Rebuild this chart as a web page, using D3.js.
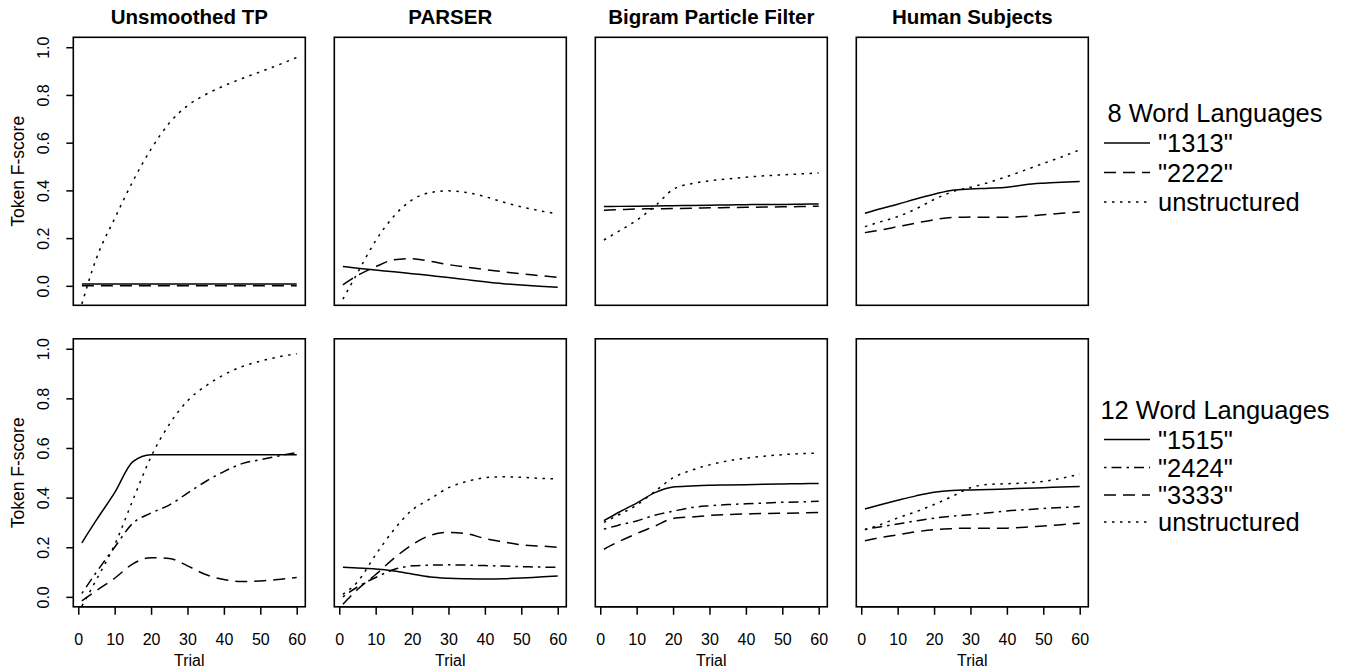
<!DOCTYPE html>
<html>
<head>
<meta charset="utf-8">
<script src="https://cdn.jsdelivr.net/npm/d3@7"></script>
<style>
  body { margin: 0; background: #fff; }
  svg { display: block; font-family: "Liberation Sans", Arial, sans-serif; }
</style>
</head>
<body>
<svg id="chart" width="1346" height="668"></svg>
<script>
/*************************Data********************* */
const trials = [1, 5, 10, 15, 20, 25, 30, 35, 40, 45, 50, 55, 60];
const models = ["Unsmoothed TP", "PARSER", "Bigram Particle Filter", "Human Subjects"];
const yTicks = [0, 0.2, 0.4, 0.6, 0.8, 1.0];
const xTicks = [0, 10, 20, 30, 40, 50, 60];

// 8 word languages
const lang8 = ['"1313"', '"2222"', "unstructured"];
const tp8_1313 = [0.008, 0.008, 0.008, 0.008, 0.008, 0.008, 0.008, 0.008, 0.008, 0.008, 0.008, 0.008, 0.008];
const tp8_2222 = [0.0, 0.0, 0.0, 0.0, 0.0, 0.0, 0.0, 0.0, 0.0, 0.0, 0.0, 0.0, 0.0];
const tp8_unstr = [-0.076, 0.116, 0.282, 0.438, 0.573, 0.682, 0.755, 0.802, 0.838, 0.869, 0.897, 0.926, 0.957];
const parser8_1313 = [0.081, 0.074, 0.066, 0.059, 0.051, 0.043, 0.035, 0.026, 0.017, 0.009, 0.003, -0.002, -0.006];
const parser8_2222 = [0.004, 0.043, 0.08, 0.109, 0.114, 0.103, 0.089, 0.078, 0.068, 0.059, 0.05, 0.043, 0.035];
const parser8_unstr = [-0.056, 0.054, 0.189, 0.292, 0.36, 0.391, 0.398, 0.391, 0.374, 0.351, 0.331, 0.315, 0.301];
const bigram8_1313 = [0.332, 0.333, 0.334, 0.335, 0.336, 0.337, 0.338, 0.339, 0.34, 0.341, 0.341, 0.342, 0.343];
const bigram8_2222 = [0.317, 0.319, 0.322, 0.323, 0.324, 0.325, 0.327, 0.328, 0.329, 0.33, 0.331, 0.332, 0.334];
const bigram8_unstr = [0.192, 0.228, 0.275, 0.334, 0.404, 0.428, 0.44, 0.448, 0.455, 0.461, 0.465, 0.469, 0.473];
const human8_1313 = [0.304, 0.322, 0.342, 0.364, 0.384, 0.401, 0.406, 0.409, 0.413, 0.424, 0.43, 0.434, 0.437];
const human8_2222 = [0.223, 0.233, 0.248, 0.263, 0.277, 0.287, 0.288, 0.287, 0.287, 0.291, 0.298, 0.304, 0.309];
const human8_unstr = [0.248, 0.267, 0.29, 0.322, 0.362, 0.394, 0.413, 0.433, 0.458, 0.485, 0.513, 0.54, 0.57];

// 12 word languages
const lang12 = ['"1515"', '"2424"', '"3333"', "unstructured"];
const tp12_1515 = [0.218, 0.31, 0.42, 0.545, 0.573, 0.573, 0.573, 0.573, 0.573, 0.573, 0.573, 0.573, 0.573];
const tp12_2424 = [0.014, 0.1, 0.2, 0.297, 0.338, 0.37, 0.418, 0.465, 0.505, 0.537, 0.553, 0.568, 0.582];
const tp12_3333 = [-0.016, 0.025, 0.075, 0.133, 0.158, 0.155, 0.125, 0.09, 0.07, 0.062, 0.064, 0.07, 0.078];
const tp12_unstr = [-0.037, 0.07, 0.21, 0.39, 0.565, 0.695, 0.79, 0.85, 0.895, 0.928, 0.95, 0.967, 0.98];
const parser12_1515 = [0.119, 0.116, 0.112, 0.104, 0.092, 0.08, 0.075, 0.073, 0.072, 0.073, 0.076, 0.08, 0.084];
const parser12_2424 = [0.0, 0.04, 0.078, 0.11, 0.125, 0.128, 0.129, 0.128, 0.126, 0.124, 0.122, 0.12, 0.119];
const parser12_3333 = [-0.03, 0.03, 0.09, 0.155, 0.21, 0.248, 0.26, 0.255, 0.235, 0.222, 0.21, 0.205, 0.2];
const parser12_unstr = [0.01, 0.06, 0.17, 0.27, 0.35, 0.395, 0.44, 0.465, 0.48, 0.484, 0.482, 0.478, 0.475];
const bigram12_1515 = [0.307, 0.34, 0.378, 0.42, 0.443, 0.447, 0.45, 0.451, 0.452, 0.454, 0.455, 0.456, 0.457];
const bigram12_2424 = [0.273, 0.289, 0.306, 0.329, 0.345, 0.36, 0.367, 0.372, 0.375, 0.378, 0.381, 0.383, 0.385];
const bigram12_3333 = [0.192, 0.222, 0.255, 0.285, 0.316, 0.322, 0.328, 0.332, 0.334, 0.336, 0.337, 0.338, 0.34];
const bigram12_unstr = [0.3, 0.33, 0.37, 0.425, 0.48, 0.51, 0.532, 0.548, 0.559, 0.567, 0.573, 0.577, 0.58];
const human12_1515 = [0.354, 0.37, 0.389, 0.407, 0.422, 0.429, 0.431, 0.433, 0.435, 0.438, 0.44, 0.443, 0.445];
const human12_2424 = [0.273, 0.282, 0.294, 0.306, 0.317, 0.325, 0.331, 0.339, 0.346, 0.351, 0.356, 0.36, 0.364];
const human12_3333 = [0.226, 0.238, 0.25, 0.262, 0.271, 0.275, 0.277, 0.277, 0.277, 0.281, 0.286, 0.291, 0.297];
const human12_unstr = [0.27, 0.29, 0.318, 0.343, 0.372, 0.405, 0.44, 0.453, 0.456, 0.459, 0.465, 0.478, 0.495];

/*************************Layout********************* */
const svg = d3.select("svg#chart");
const panelW = 232;
const panelH = 268;
const colX = [73.3, 334.3, 595.3, 856.3];
const rowY = [37.3, 338.8];

// line types as in R: solid, dashed, dotted, dotdash
const dash = {
  solid: null,
  dashed: "12,7",
  dotted: "2.5,5.5",
  dotdash: "2.5,5,10,5",
};

const scaleX = d3.scaleLinear().domain([-1.36, 62.36]).range([0, panelW]);

const rows = [
  {
    title: "8 Word Languages",
    labels: lang8,
    types: ["solid", "dashed", "dotted"],
    legendY: [113, 143, 172.5, 202],
    scaleY: d3.scaleLinear().domain([-0.0816, 1.0416]).range([panelH, 0]),
    series: [
      [tp8_1313, tp8_2222, tp8_unstr],
      [parser8_1313, parser8_2222, parser8_unstr],
      [bigram8_1313, bigram8_2222, bigram8_unstr],
      [human8_1313, human8_2222, human8_unstr],
    ],
  },
  {
    title: "12 Word Languages",
    labels: lang12,
    types: ["solid", "dotdash", "dashed", "dotted"],
    legendY: [410, 439.5, 467.5, 495, 522],
    scaleY: d3.scaleLinear().domain([-0.04, 1.04]).range([panelH, 0]),
    series: [
      [tp12_1515, tp12_2424, tp12_3333, tp12_unstr],
      [parser12_1515, parser12_2424, parser12_3333, parser12_unstr],
      [bigram12_1515, bigram12_2424, bigram12_3333, bigram12_unstr],
      [human12_1515, human12_2424, human12_3333, human12_unstr],
    ],
  },
];

/*************************Drawing panels********************* */
rows.forEach((row, r) => {
  const scaleY = row.scaleY;
  const line = d3
    .line()
    .x((d) => scaleX(d[0]))
    .y((d) => scaleY(d[1]))
    .curve(d3.curveMonotoneX);

  models.forEach((model, c) => {
    const g = svg.append("g").attr("class", "panel").attr("transform", `translate(${colX[c]},${rowY[r]})`);

    // curves
    row.series[c].forEach((vals, s) => {
      g.append("path")
        .datum(trials.map((t, i) => [t, vals[i]]))
        .attr("d", line)
        .attr("fill", "none")
        .attr("stroke", "#000")
        .attr("stroke-width", 1.5)
        .attr("stroke-dasharray", dash[row.types[s]]);
    });

    // box
    g.append("rect").attr("width", panelW).attr("height", panelH).attr("fill", "none").attr("stroke", "#000").attr("stroke-width", 1.6);

    // titles on top row
    if (r === 0) {
      g.append("text")
        .text(model)
        .attr("x", panelW / 2)
        .attr("y", -13)
        .attr("text-anchor", "middle")
        .style("font-weight", "bold")
        .style("font-size", "20.5px");
    }

    // y axis on first column
    if (c === 0) {
      const yAxis = d3.axisLeft(scaleY).tickValues(yTicks).tickSize(7).tickFormat(d3.format(".1f"));
      const ay = g.append("g").attr("class", "y-axis").call(yAxis);
      ay.select(".domain").remove();
      ay.selectAll(".tick line").attr("stroke-width", 1.5);
      ay.selectAll(".tick text")
        .attr("transform", "rotate(-90)")
        .attr("x", 0)
        .attr("y", -24.5)
        .attr("dy", 0)
        .attr("text-anchor", "middle")
        .style("font-size", "16px")
        .style("font-family", "Liberation Sans, Arial, sans-serif");
      g.append("text")
        .text("Token F-score")
        .attr("transform", `translate(${-49},${panelH / 2}) rotate(-90)`)
        .attr("text-anchor", "middle")
        .style("font-size", "17.5px");
    }

    // x axis on bottom row
    if (r === rows.length - 1) {
      const xAxis = d3.axisBottom(scaleX).tickValues(xTicks).tickSize(8);
      const ax = g.append("g").attr("class", "x-axis").attr("transform", `translate(0,${panelH})`).call(xAxis);
      ax.select(".domain").attr("d", `M${scaleX(0)},0H${scaleX(60)}`).attr("stroke-width", 1.5);
      ax.selectAll(".tick line").attr("stroke-width", 1.5);
      ax.selectAll(".tick text")
        .attr("y", 38)
        .attr("dy", 0)
        .style("font-size", "16px")
        .style("font-family", "Liberation Sans, Arial, sans-serif");
      g.append("text")
        .text("Trial")
        .attr("x", panelW / 2)
        .attr("y", panelH + 59)
        .attr("text-anchor", "middle")
        .style("font-size", "16px");
    }
  });

  /*************************Adding legends********************* */
  const leg = svg.append("g").attr("class", "legend");
  leg.append("text")
    .text(row.title)
    .attr("x", 1215)
    .attr("y", row.legendY[0] + 9)
    .attr("text-anchor", "middle")
    .style("font-size", "25.5px");
  row.labels.forEach((lab, i) => {
    const y = row.legendY[i + 1];
    leg.append("line")
      .attr("x1", 1104)
      .attr("x2", 1150)
      .attr("y1", y)
      .attr("y2", y)
      .attr("stroke", "#000")
      .attr("stroke-width", 1.5)
      .attr("stroke-dasharray", dash[row.types[i]]);
    leg.append("text")
      .text(lab)
      .attr("x", 1158)
      .attr("y", y + 9)
      .style("font-size", "25.5px");
  });
});
</script>
</body>
</html>
